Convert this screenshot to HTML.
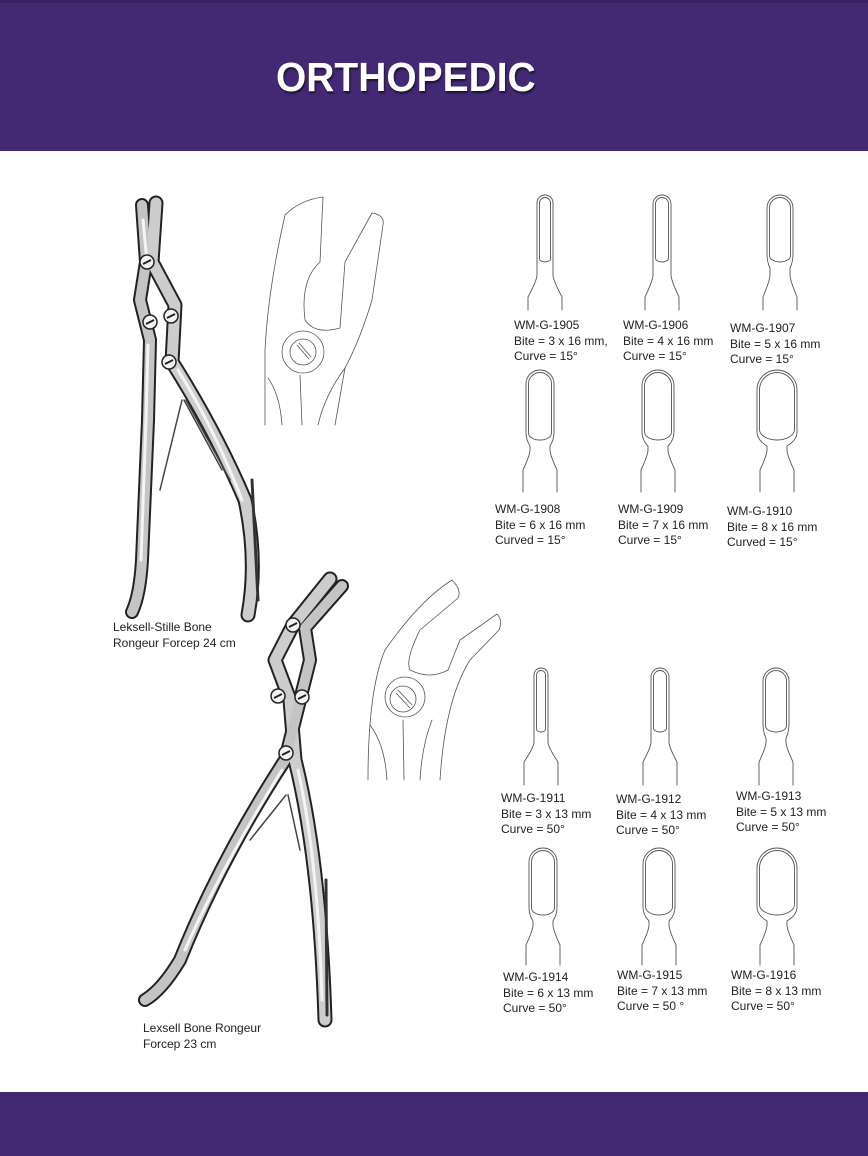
<!DOCTYPE html>
<html><head><meta charset="utf-8">
<style>
body{margin:0;width:868px;height:1156px;background:#fff;position:relative;overflow:hidden;font-family:"Liberation Sans",Arial,sans-serif}
.hdr{position:absolute;left:0;top:0;width:868px;height:151px;background:#432873;border-top:3px solid #3a2266;box-sizing:border-box}
.hdr h1{position:absolute;left:276px;top:51px;margin:0;font-size:41px;font-weight:bold;color:#fff;letter-spacing:0;text-shadow:1px 2px 2px rgba(0,0,0,.6);transform:scaleX(0.95);transform-origin:left}
.ftr{position:absolute;left:0;top:1092px;width:868px;height:64px;background:#432873}
.t{position:absolute;font-size:12px;line-height:15.5px;color:#222;white-space:nowrap}
svg{position:absolute;left:0;top:0}
</style></head><body>
<div class="hdr"><h1>ORTHOPEDIC</h1></div>
<svg width="868" height="1156" id="s">
<g fill="none" stroke-linecap="round" stroke-linejoin="round">
<!-- forceps 1 -->
<path d="M142,205 L146,262 L140,300 L150,340 L148,420 L142,560 Q140,595 132,612" stroke="#222" stroke-width="14"/>
<path d="M156,203 L152,262 L175,305 L172,362 Q215,430 245,500 Q258,560 248,615" stroke="#222" stroke-width="15"/>
<path d="M142,205 L146,262 L140,300 L150,340 L148,420 L142,560 Q140,595 132,612" stroke="#c4c4c4" stroke-width="10"/>
<path d="M156,203 L152,262 L175,305 L172,362 Q215,430 245,500 Q258,560 248,615" stroke="#cdcdcd" stroke-width="11"/>
<path d="M143,220 L147,262 M148,345 L146,420 L141,560" stroke="#f4f4f4" stroke-width="3"/>
<path d="M178,370 Q215,430 242,500" stroke="#f4f4f4" stroke-width="3"/>
<path d="M182,400 L160,490 M184,400 L222,470 M186,400 L230,480" stroke="#444" stroke-width="1.5"/>
<path d="M252,480 L258,600" stroke="#333" stroke-width="3" stroke-dasharray="1.5 1.5"/>
<!-- forceps 2 -->
<path d="M330,579 L293,625 L275,660 L290,700 L295,760 Q320,860 325,1020" stroke="#222" stroke-width="15"/>
<path d="M342,586 L305,628 L310,660 L300,700 L285,760 Q220,860 180,960 Q162,990 145,1000" stroke="#222" stroke-width="14"/>
<path d="M330,579 L293,625 L275,660 L290,700 L295,760 Q320,860 325,1020" stroke="#cdcdcd" stroke-width="11"/>
<path d="M342,586 L305,628 L310,660 L300,700 L285,760 Q220,860 180,960 Q162,990 145,1000" stroke="#c4c4c4" stroke-width="10"/>
<path d="M298,770 Q318,860 322,1000 M282,770 Q220,870 185,950" stroke="#f4f4f4" stroke-width="3"/>
<path d="M286,795 L250,840 M288,795 L300,850" stroke="#444" stroke-width="1.5"/>
<path d="M326,880 L327,1015" stroke="#333" stroke-width="3" stroke-dasharray="1.5 1.5"/>
<!-- outline drawing 1 -->
<g stroke="#555" stroke-width="0.8">
<path d="M323,197 Q300,200 285,215 Q268,290 265,350 L265,425"/>
<path d="M323,197 L320,262 Q300,280 305,320 Q315,335 340,328 L345,262 L372,213 Q385,215 383,225 L372,300 Q360,340 345,368 L335,425"/>
<circle cx="303" cy="352" r="21"/><circle cx="303" cy="352" r="13"/>
<path d="M297,345 L309,359 M299,343 L311,357"/>
<path d="M268,378 Q280,395 282,425 M300,375 L302,425 M345,368 Q325,395 318,425"/>
</g>
<!-- outline drawing 2 -->
<g stroke="#555" stroke-width="0.8">
<path d="M452,580 Q420,600 385,650 Q368,690 368,780"/>
<path d="M452,580 Q462,590 458,598 L420,630 Q405,660 410,670 Q430,680 448,670 L460,640 L497,614 Q503,620 499,630 L470,660 Q445,700 440,780"/>
<circle cx="405" cy="697" r="20"/><circle cx="403" cy="699" r="13"/>
<path d="M396,693 L410,708 M398,690 L412,705"/>
<path d="M370,725 Q385,745 387,780 M403,720 L404,780 M432,720 Q422,745 420,780"/>
</g>
<g id="tips" stroke="#555" stroke-width="0.9"></g>
</g>
</svg>
<div class="t" style="left:113px;top:620px">Leksell-Stille Bone<br>Rongeur Forcep 24 cm</div>
<div class="t" style="left:143px;top:1021px">Lexsell Bone Rongeur<br>Forcep 23 cm</div>

<div class="t" style="left:514px;top:318px">WM-G-1905<br>Bite = 3 x 16 mm,<br>Curve = 15°</div>
<div class="t" style="left:623px;top:318px">WM-G-1906<br>Bite = 4 x 16 mm<br>Curve = 15°</div>
<div class="t" style="left:730px;top:321px">WM-G-1907<br>Bite = 5 x 16 mm<br>Curve = 15°</div>
<div class="t" style="left:495px;top:502px">WM-G-1908<br>Bite = 6 x 16 mm<br>Curved = 15°</div>
<div class="t" style="left:618px;top:502px">WM-G-1909<br>Bite = 7 x 16 mm<br>Curve = 15°</div>
<div class="t" style="left:727px;top:504px">WM-G-1910<br>Bite = 8 x 16 mm<br>Curved = 15°</div>
<div class="t" style="left:501px;top:791px">WM-G-1911<br>Bite = 3 x 13 mm<br>Curve = 50°</div>
<div class="t" style="left:616px;top:792px">WM-G-1912<br>Bite = 4 x 13 mm<br>Curve = 50°</div>
<div class="t" style="left:736px;top:789px">WM-G-1913<br>Bite = 5 x 13 mm<br>Curve = 50°</div>
<div class="t" style="left:503px;top:970px">WM-G-1914<br>Bite = 6 x 13 mm<br>Curve = 50°</div>
<div class="t" style="left:617px;top:968px">WM-G-1915<br>Bite = 7 x 13 mm<br>Curve = 50 °</div>
<div class="t" style="left:731px;top:968px">WM-G-1916<br>Bite = 8 x 13 mm<br>Curve = 50°</div>
<div class="ftr"></div>
<script>
var rows=[[195,262,275,297,310,[[545,8],[662,9],[780,13]]],
[370,440,450,470,492,[[540,14],[658,16],[777,20]]],
[668,732,742,762,785,[[541,7],[660,9],[776,13]]],
[848,915,925,945,965,[[543,14],[659,16],[777,20]]]];
var d="";
rows.forEach(function(r){var top=r[0],lb=r[1],fs=r[2],fe=r[3],b=r[4];
r[5].forEach(function(c){var cx=c[0],hw=c[1],nw=Math.min(hw,10),bh=17;
var o="M"+(cx-bh)+","+b+" L"+(cx-bh)+","+fe+" Q"+(cx-nw)+","+(fs+5)+" "+(cx-nw)+","+fs+" L"+(cx-nw)+","+(lb+6)+" Q"+(cx-hw)+","+(lb)+" "+(cx-hw)+","+(lb-8)+" L"+(cx-hw)+","+(top+hw)+" A"+hw+","+hw+" 0 0 1 "+(cx+hw)+","+(top+hw)+" L"+(cx+hw)+","+(lb-8)+" Q"+(cx+hw)+","+lb+" "+(cx+nw)+","+(lb+6)+" L"+(cx+nw)+","+fs+" Q"+(cx+nw)+","+(fs+5)+" "+(cx+bh)+","+fe+" L"+(cx+bh)+","+b;
var iw=hw-2.5;
var i="M"+(cx-iw)+","+(top+hw)+" A"+iw+","+iw+" 0 0 1 "+(cx+iw)+","+(top+hw)+" L"+(cx+iw)+","+(lb-iw*0.6)+" A"+iw+","+(iw*0.6)+" 0 0 1 "+(cx-iw)+","+(lb-iw*0.6)+" Z";
d+='<path d="'+o+'"/><path d="'+i+'"/>';});});
document.getElementById("tips").innerHTML=d;
var p="";[[147,262],[150,322],[171,316],[169,362],[293,625],[278,696],[302,697],[286,753]].forEach(function(q){p+='<circle cx="'+q[0]+'" cy="'+q[1]+'" r="7" fill="#f4f4f4" stroke="#222" stroke-width="1.5"/><path d="M'+(q[0]-4)+','+(q[1]+2)+' L'+(q[0]+4)+','+(q[1]-2)+'" stroke="#222" stroke-width="2"/>';});
document.getElementById("s").insertAdjacentHTML("beforeend",p);
</script>
</body></html>
